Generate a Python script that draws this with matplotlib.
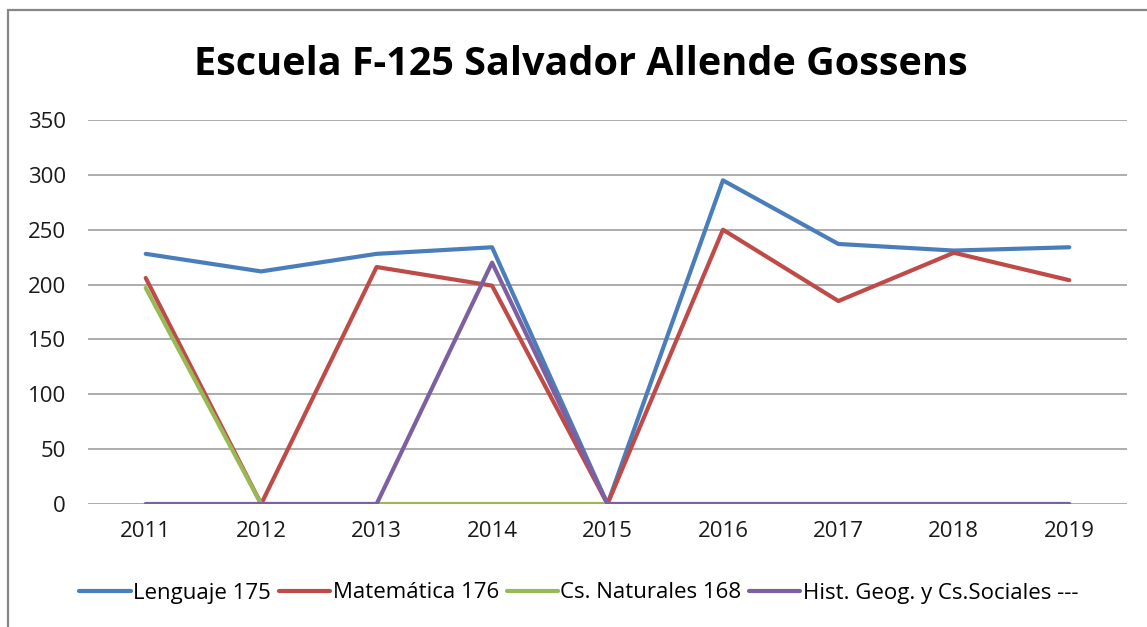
#!/usr/bin/env python3

import matplotlib

matplotlib.use("Agg")
import matplotlib.pyplot as plt
from matplotlib.patches import Rectangle

years = ["2011", "2012", "2013", "2014", "2015", "2016", "2017", "2018", "2019"]
lenguaje = [228, 212, 228, 234, 0, 295, 237, 231, 234]
matematica = [206, 0, 216, 199, 0, 250, 185, 229, 204]
naturales = [197, 0, 0, 0, 0, 0, 0, 0, 0]
historia = [0, 0, 0, 220, 0, 0, 0, 0, 0]

series_labels = [
    "Lenguaje 175",
    "Matemática 176",
    "Cs. Naturales 168",
    "Hist. Geog. y Cs.Sociales ---",
]
series_colors = ["#4A7EBB", "#BE4B48", "#98B954", "#7D60A0"]

title = "Escuela F-125 Salvador Allende Gossens"

W, H = 1147, 627


def main():
    plt.rcParams["font.family"] = ["Open Sans", "DejaVu Sans"]
    fig = plt.figure(figsize=(W / 100, H / 100), dpi=100)
    ax = fig.add_axes([88 / W, 1 - 504 / H, (1127 - 88) / W, (504 - 120) / H])

    xs = list(range(len(years)))
    for vals, label, color in zip(
        [lenguaje, matematica, naturales, historia], series_labels, series_colors
    ):
        ax.plot(
            xs, vals, color=color, linewidth=3, label=label,
            solid_capstyle="round", solid_joinstyle="round",
        )

    ax.set_xlim(-0.5, len(years) - 0.5)
    ax.set_ylim(0, 350)
    ax.set_yticks(range(0, 351, 50))
    ax.set_xticks(xs)
    ax.set_xticklabels(years)
    ax.grid(axis="y", color="#969696", linewidth=1.1)
    ax.set_axisbelow(True)
    for side in ["top", "right", "left", "bottom"]:
        ax.spines[side].set_visible(False)
    ax.tick_params(axis="both", length=0, labelsize=16, colors="#1a1a1a")
    ax.tick_params(axis="y", pad=16)
    ax.tick_params(axis="x", pad=12)

    fig.text(
        581 / W, 1 - 75 / H, title,
        ha="center", va="baseline", fontsize=28.5, fontweight="bold",
    )

    fig.legend(
        loc="center",
        bbox_to_anchor=(579 / W, 1 - 593 / H),
        ncol=4,
        frameon=False,
        fontsize=16,
        handlelength=2.3,
        handletextpad=0.12,
        columnspacing=0.35,
        borderaxespad=0,
    )

    border = Rectangle(
        (8 / W, -0.05), 1.1, 1 - 10 / H + 0.05,
        transform=fig.transFigure, fill=False,
        edgecolor="#878787", linewidth=1.6, clip_on=False,
    )
    fig.patches.append(border)

    fig.savefig("out.png", dpi=100)


if __name__ == "__main__":
    main()
